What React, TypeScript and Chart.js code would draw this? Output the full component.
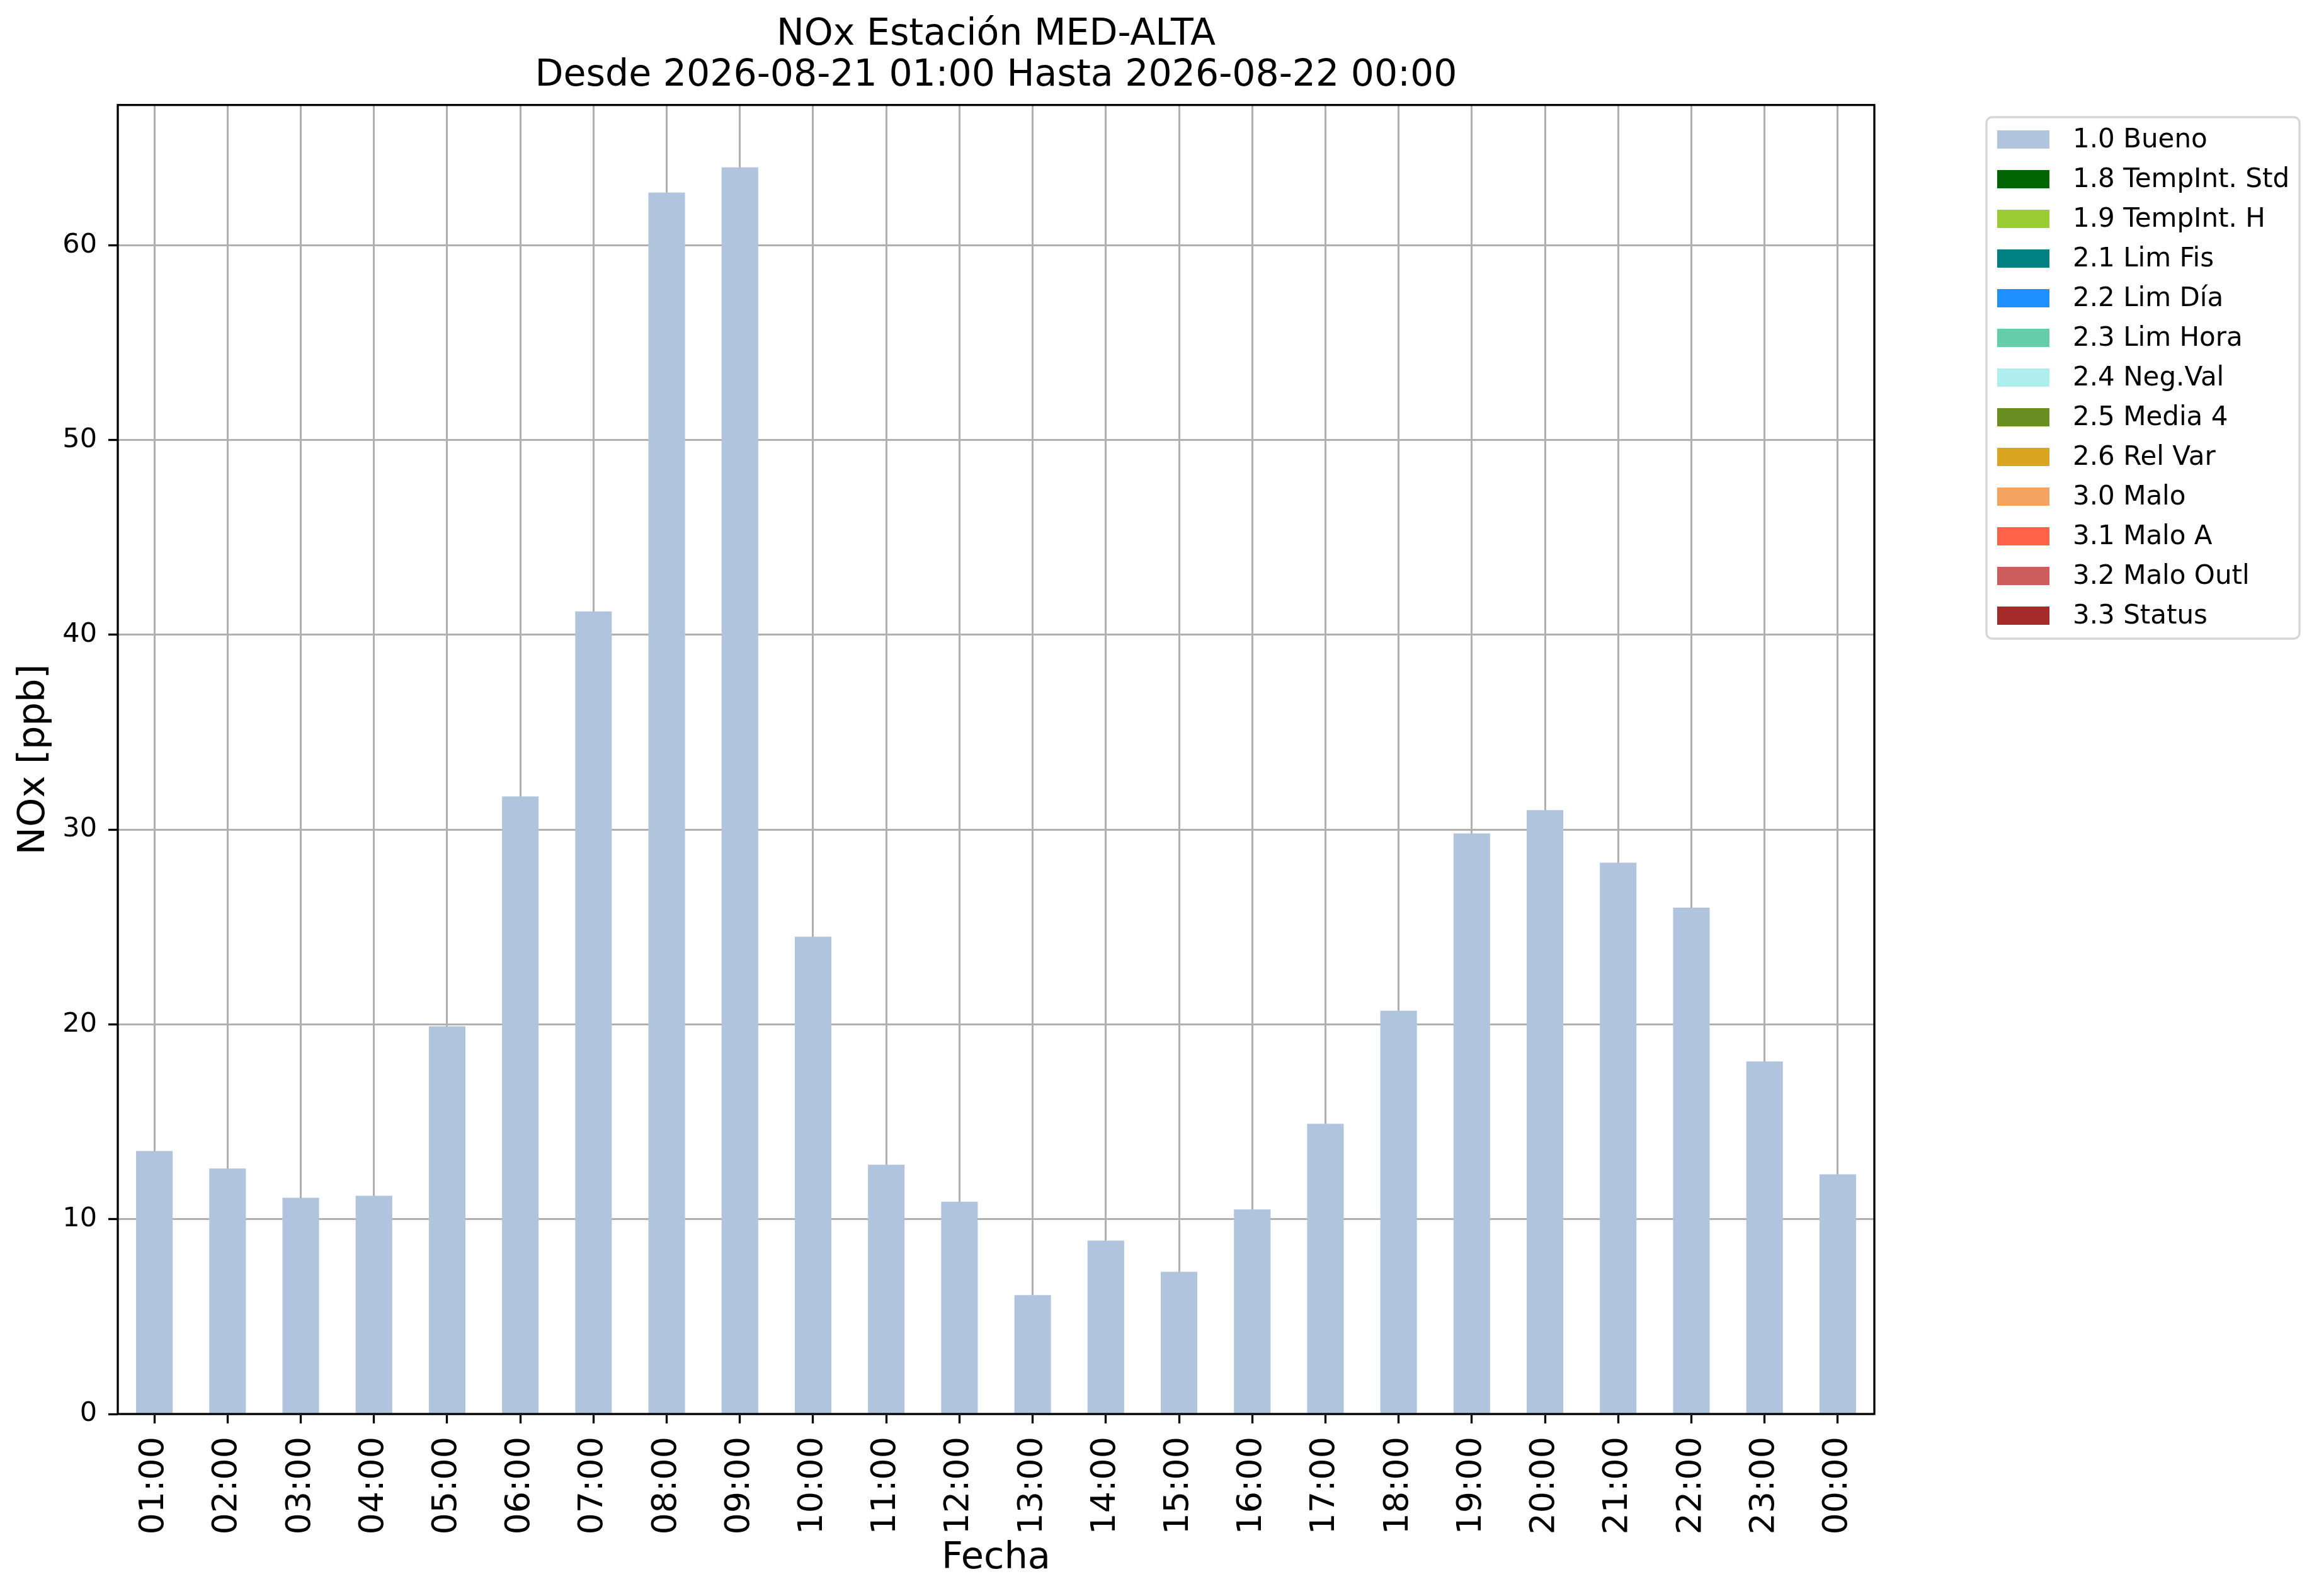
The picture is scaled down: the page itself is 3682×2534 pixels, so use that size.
import React, { useEffect, useRef } from "react";
import Chart from "chart.js/auto";
import type { ChartConfiguration, Plugin } from "chart.js";

const FONT = "DejaVu Sans";

const HOURS = [
    "01:00", "02:00", "03:00", "04:00", "05:00", "06:00", "07:00", "08:00",
    "09:00", "10:00", "11:00", "12:00", "13:00", "14:00", "15:00", "16:00",
    "17:00", "18:00", "19:00", "20:00", "21:00", "22:00", "23:00", "00:00",
];

// NOx [ppb], flag 1.0 Bueno (every hour valid)
const NOX_BUENO = [
    13.5, 12.6, 11.1, 11.2, 19.9, 31.7, 41.2, 62.7,
    64.0, 24.5, 12.8, 10.9, 6.1, 8.9, 7.3, 10.5,
    14.9, 20.7, 29.8, 31.0, 28.3, 26.0, 18.1, 12.3,
];

const FLAG_LABELS = [
    "1.0 Bueno",
    "1.8 TempInt. Std",
    "1.9 TempInt. H",
    "2.1 Lim Fis",
    "2.2 Lim Día",
    "2.3 Lim Hora",
    "2.4 Neg.Val",
    "2.5 Media 4",
    "2.6 Rel Var",
    "3.0 Malo",
    "3.1 Malo A",
    "3.2 Malo Outl",
    "3.3 Status",
];

const FLAG_COLORS = [
    "#b0c4de", // lightsteelblue
    "#006400", // darkgreen
    "#9acd32", // yellowgreen
    "#008080", // teal
    "#1e90ff", // dodgerblue
    "#66cdaa", // mediumaquamarine
    "#afeeee", // paleturquoise
    "#6b8e23", // olivedrab
    "#daa520", // goldenrod
    "#f4a460", // sandybrown
    "#ff6347", // tomato
    "#cd5c5c", // indianred
    "#a52a2a", // brown
];

const Y_MAX = 67.2;
const Y_STEP = 10;

const W = 3682;
const H = 2534;

// black box around the axes, like matplotlib spines
const framePlugin: Plugin = {
    id: "frame",
    afterDraw(chart) {
        const { ctx, chartArea: a } = chart;
        ctx.save();
        ctx.strokeStyle = "#000";
        ctx.lineWidth = 3.3;
        ctx.strokeRect(a.left, a.top, a.right - a.left, a.bottom - a.top);
        ctx.restore();
    },
};

// boxed legend to the right of the axes
const boxLegendPlugin: Plugin = {
    id: "boxLegend",
    afterDraw(chart) {
        const { ctx } = chart;
        const datasets = chart.data.datasets;
        const rowH = 63;
        const patchH = 29;
        const boxW = 497;
        const boxRight = chart.width - 31;
        const boxLeft = boxRight - boxW;
        const boxTop = 186;
        const boxH = 21 + (datasets.length - 1) * rowH + patchH + 22;

        ctx.save();
        ctx.fillStyle = "#fff";
        ctx.strokeStyle = "#d6d6d6";
        ctx.lineWidth = 3.3;
        ctx.beginPath();
        ctx.roundRect(boxLeft, boxTop, boxW, boxH, 9);
        ctx.fill();
        ctx.stroke();

        ctx.font = `42px "${FONT}"`;
        ctx.textAlign = "left";
        ctx.textBaseline = "middle";
        datasets.forEach((ds: any, i) => {
            const top = boxTop + 21 + i * rowH;
            ctx.fillStyle = ds.backgroundColor;
            ctx.fillRect(boxLeft + 17, top, 83, patchH);
            ctx.fillStyle = "#000";
            ctx.fillText(ds.label, boxLeft + 137, top + 16);
        });
        ctx.restore();
    },
};

export default function App() {
    const canvasRef = useRef<HTMLCanvasElement | null>(null);

    useEffect(() => {
        document.body.style.margin = "0";
        const canvas = canvasRef.current;
        if (!canvas) return;

        const config: ChartConfiguration = {
            type: "bar",
            data: {
                labels: HOURS,
                datasets: FLAG_LABELS.map((label, i) => ({
                    label,
                    data: i === 0 ? NOX_BUENO : [],
                    backgroundColor: FLAG_COLORS[i],
                    borderWidth: 0,
                    grouped: false,
                    categoryPercentage: 1,
                    barPercentage: 0.5,
                })),
            },
            options: {
                responsive: false,
                animation: false,
                devicePixelRatio: 1,
                layout: {
                    padding: { left: 0, right: 706, top: 0, bottom: 0 },
                },
                plugins: {
                    legend: { display: false },
                    tooltip: { enabled: false },
                    title: {
                        display: true,
                        fullSize: false,
                        text: [
                            "NOx Estación MED-ALTA",
                            "Desde 2026-08-21 01:00 Hasta 2026-08-22 00:00",
                        ],
                        color: "#000",
                        font: { family: FONT, size: 58.5, weight: "normal", lineHeight: 1.1 },
                        padding: { top: 24, bottom: 14 },
                    },
                },
                scales: {
                    x: {
                        type: "category",
                        z: 1,
                        offset: true,
                        afterFit: (scale: any) => {
                            scale.height = H - 2245;
                        },
                        grid: {
                            color: "#b0b0b0",
                            lineWidth: 3,
                            offset: false,
                            drawTicks: true,
                            tickColor: "#000",
                            tickLength: 15,
                            tickWidth: 3.3,
                        },
                        border: { display: false },
                        ticks: {
                            color: "#000",
                            autoSkip: false,
                            minRotation: 90,
                            maxRotation: 90,
                            padding: 21,
                            font: { family: FONT, size: 54 },
                        },
                        title: {
                            display: true,
                            text: "Fecha",
                            color: "#000",
                            font: { family: FONT, size: 59, lineHeight: 1.2 },
                            padding: { top: 0, bottom: 24 },
                        },
                    },
                    y: {
                        type: "linear",
                        z: 1,
                        min: 0,
                        max: Y_MAX,
                        afterFit: (scale: any) => {
                            scale.width = 187;
                        },
                        grid: {
                            color: "#b0b0b0",
                            lineWidth: 3,
                            drawTicks: true,
                            tickColor: "#000",
                            tickLength: 15,
                            tickWidth: 3.3,
                        },
                        border: { display: false },
                        ticks: {
                            color: "#000",
                            stepSize: Y_STEP,
                            includeBounds: false,
                            padding: 18,
                            font: { family: FONT, size: 43 },
                        },
                        title: {
                            display: true,
                            text: "NOx [ppb]",
                            color: "#000",
                            font: { family: FONT, size: 59, lineHeight: 1.2 },
                            padding: { top: 19, bottom: 0 },
                        },
                    },
                },
            },
            plugins: [framePlugin, boxLegendPlugin],
        };

        const chart = new Chart(canvas, config);
        return () => {
            chart.destroy();
        };
    }, []);

    return (
        <div style={{ width: W, height: H, background: "#fff" }}>
            <canvas
                ref={canvasRef}
                width={W}
                height={H}
                style={{ display: "block", width: W, height: H }}
            />
        </div>
    );
}
